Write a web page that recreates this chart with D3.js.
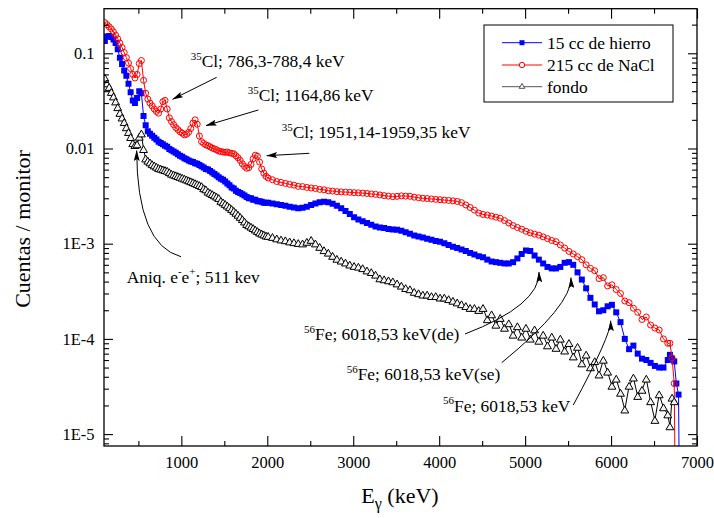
<!DOCTYPE html>
<html>
<head>
<meta charset="utf-8">
<script src="https://cdn.jsdelivr.net/npm/d3@7"></script>
<style>
  html, body { margin: 0; padding: 0; background: #fff; }
  svg text { font-family: "Liberation Serif", "Times New Roman", serif; fill: #000; }
</style>
</head>
<body>
<svg id="chart" width="714" height="518"></svg>
<script>
// Gamma energy of each channel (keV)
const energyKeV = [
  110, 135, 160, 185, 210, 235, 260, 285, 310, 335,
  360, 385, 410, 435, 460, 485, 510, 535, 560, 585,
  610, 635, 660, 685, 710, 735, 760, 785, 810, 835,
  860, 885, 910, 935, 960, 985, 1010, 1035, 1060, 1085,
  1110, 1135, 1160, 1185, 1210, 1235, 1260, 1285, 1310, 1335,
  1360, 1385, 1410, 1435, 1460, 1485, 1510, 1535, 1560, 1585,
  1610, 1635, 1660, 1685, 1710, 1735, 1760, 1785, 1810, 1835,
  1860, 1885, 1910, 1935, 1960, 1985, 2010, 2060, 2110, 2160,
  2210, 2260, 2310, 2360, 2410, 2460, 2510, 2560, 2610, 2660,
  2710, 2760, 2810, 2860, 2910, 2960, 3010, 3060, 3110, 3160,
  3210, 3260, 3310, 3360, 3410, 3460, 3510, 3560, 3610, 3660,
  3710, 3760, 3810, 3860, 3910, 3960, 4010, 4060, 4110, 4160,
  4210, 4260, 4310, 4360, 4410, 4460, 4510, 4560, 4610, 4660,
  4710, 4760, 4810, 4860, 4910, 4960, 5010, 5060, 5110, 5160,
  5210, 5260, 5310, 5360, 5410, 5460, 5510, 5560, 5610, 5660,
  5710, 5760, 5810, 5860, 5910, 5960, 6010, 6060, 6110, 6160,
  6210, 6260, 6310, 6360, 6410, 6460, 6510, 6560, 6610, 6660,
  6685, 6710, 6735, 6760, 6785, 6810
];

// Cuentas / monitor — 15 cc de hierro
const hierro = [
  .135, .15, .152, .148, .14, .128, .11, .09, .077, .066,
  .058, .048, .039, .032, .030, .034, .040, .038, .022, .0175,
  .0152, .0143, .0136, .013, .0124, .0118, .0114, .0111, .0107, .0104,
  .0099, .0096, .0093, .009, .0087, .0084, .0082, .0079, .0077, .0075,
  .0073, .0072, .007, .0069, .0067, .0065, .0063, .0061, .006, .0058,
  .0056, .0054, .0052, .005, .0048, .0047, .0045, .0043, .0041, .0039,
  .0038, .0036, .0035, .0034, .0033, .0032, .0031, .0030, .0030, .0029,
  .0029, .0028, .0028, .00275, .0027, .0027, .0027, .00265, .0026, .00255,
  .0025, .00245, .0024, .00236, .00238, .00245, .00255, .00265, .00272, .00276,
  .00272, .00262, .0025, .00235, .0022, .00205, .0019, .0018, .00172, .00165,
  .00158, .00152, .00148, .00146, .00143, .00141, .0014, .00137, .00132, .00127,
  .00122, .00119, .00116, .00113, .0011, .00107, .00105, .00101, .00097, .00093,
  .0009, .00087, .00084, .0008, .00077, .00074, .00072, .00068, .00065, .00064,
  .00063, .00062, .00062, .00064, .0007, .00078, .00085, .00084, .00075, .00068,
  .00062, .00057, .00055, .00055, .00057, .00063, .00064, .0006, .0005, .00042,
  .00034, .00027, .00023, .000195, .0002, .00022, .000228, .00019, .00015, .0001,
  .000078, .000085, .00007, .000062, .00006, .000056, .000052, .00005, .00005, .00006,
  .000068, .000062, .000058, .000034, .000026, 1e-7
];

// Cuentas / monitor — 215 cc de NaCl
const nacl = [
  .21, .20, .19, .18, .168, .155, .142, .128, .115, .102,
  .090, .079, .069, .060, .055, .060, .078, .084, .052, .038,
  .033, .030, .028, .026, .0245, .0235, .026, .031, .032, .026,
  .021, .0192, .0178, .0166, .0158, .015, .0145, .0139, .0141, .0148,
  .0162, .0185, .020, .018, .0135, .0118, .0113, .0109, .0107, .0104,
  .0101, .0099, .0097, .0094, .0093, .0092, .0091, .0092, .0090, .0089,
  .0088, .0084, .0080, .0075, .0069, .0065, .0062, .0063, .0068, .0078,
  .0085, .0083, .0072, .0061, .0055, .0051, .0049, .0047, .0045, .0044,
  .0043, .0042, .00412, .0040, .00398, .0039, .00385, .0038, .00372, .00368,
  .0036, .00357, .00352, .0035, .00348, .00346, .00344, .00342, .0034, .00337,
  .00333, .0033, .00325, .0032, .00316, .00312, .00314, .00318, .00316, .00315,
  .00308, .00304, .003, .00298, .00295, .00292, .0029, .00287, .00285, .00282,
  .00278, .0027, .00255, .0024, .00225, .0021, .00203, .002, .00195, .0019,
  .00185, .00175, .00165, .00155, .00148, .00142, .00135, .0013, .00126, .00123,
  .00118, .00113, .00108, .00105, .00097, .0009, .00083, .00078, .00073, .00068,
  .0006, .00055, .00052, .00043, .00044, .00036, .00037, .00033, .0003, .00025,
  .00024, .00021, .00019, .00016, .00017, .00014, .00013, .000124, .0001, .00009,
  .00009, .000063, .000034, 1e-7, null, null
];

// Cuentas / monitor — fondo
const fondo = [
  .055, .048, .044, .039, .035, .031, .027, .0235, .021, .0188,
  .0166, .0148, .0131, .0113, .0108, .011, .0132, .0143, .0098, .0078,
  .0074, .0071, .0068, .0066, .0064, .0062, .0061, .006, .0059, .0058,
  .0056, .0054, .0053, .0052, .0051, .005, .0049, .0048, .0047, .0046,
  .0045, .0044, .0043, .0042, .0041, .004, .0038, .0037, .0035, .0034,
  .0033, .0032, .0031, .003, .0028, .0027, .0026, .0025, .0024, .0023,
  .0022, .0021, .002, .0019, .0018, .0017, .0016, .00155, .0015, .00145,
  .0014, .00135, .0013, .00127, .00124, .00121, .0012, .00117, .00113, .0011,
  .00108, .00105, .00103, .00101, .001, .00104, .00109, .001, .00092, .00085,
  .0008, .00074, .00069, .00066, .00063, .0006, .00058, .00057, .00055, .00052,
  .0005, .00047, .00043, .00042, .00041, .0004, .00038, .00036, .00034, .00033,
  .00031, .0003, .00029, .00029, .00028, .00028, .00027, .00027, .00026, .00025,
  .00024, .00023, .00022, .00021, .00021, .0002, .00021, .00016, .00018, .00014,
  .000165, .00013, .000145, .00011, .000135, .000105, .00013, .0001, .000125, .000095,
  .00011, .000085, .000105, .00008, .0001, .000075, .00009, .000065, .000082, .000055,
  .000068, .00005, .000058, .000042, .00006, .000045, .000032, .000038, .000027, .000018,
  .000032, .000039, .000025, .000029, .000038, .000022, .000014, .000026, .000019, .000016,
  .000012, .000024, .000022, null, null, null
];

const seriesNames = ["15 cc de hierro", "215 cc de NaCl", "fondo"];
const xMajorTicks = [1000, 2000, 3000, 4000, 5000, 6000, 7000];
const xMinorTicks = [500, 1500, 2500, 3500, 4500, 5500, 6500];
const yMajorTicks = [1e-5, 1e-4, 1e-3, 0.01, 0.1];
const yTickLabels = ["1E-5", "1E-4", "1E-3", "0.01", "0.1"];

const svg = d3.select("#chart");
const plotLeft = 104, plotRight = 697, plotTop = 8.7, plotBottom = 446;

const x = d3.scaleLinear().domain([100, 7000]).range([plotLeft, plotRight]);
const y = d3.scaleLog().domain([7.5e-6, 0.294]).range([plotBottom, plotTop]);

// minor log ticks (2..9 per decade) inside the domain
const yMinorTicks = [];
for (let e = -6; e <= 0; e++) {
  for (let m = 2; m <= 9; m++) {
    const v = m * Math.pow(10, e);
    if (v >= y.domain()[0] && v <= y.domain()[1]) yMinorTicks.push(v);
  }
}

const font = '"Liberation Serif", "Times New Roman", serif';
const labelSize = 17.4;
const defs = svg.append("defs");
defs.append("clipPath").attr("id", "plotClip")
  .append("rect").attr("x", plotLeft).attr("y", plotTop)
  .attr("width", plotRight - plotLeft).attr("height", plotBottom - plotTop);
defs.append("marker").attr("id", "arrowHead")
  .attr("viewBox", "0 0 11 6").attr("refX", 10.5).attr("refY", 3)
  .attr("markerWidth", 11).attr("markerHeight", 6)
  .attr("markerUnits", "userSpaceOnUse").attr("orient", "auto")
  .append("path").attr("d", "M0,0 L11,3 L0,6 L2,3 Z").attr("fill", "#000");

// ---- data series ----
const plot = svg.append("g").attr("clip-path", "url(#plotClip)");
const rows = (vals) => energyKeV.map((e, i) => ({ e, v: vals[i] }));
const line = d3.line().defined(d => d.v != null).x(d => x(d.e)).y(d => y(d.v));

function drawSeries(vals, color, markerFn) {
  const data = rows(vals);
  const g = plot.append("g");
  g.append("path").datum(data).attr("d", line)
    .attr("fill", "none").attr("stroke", color).attr("stroke-width", 1);
  const pts = data.filter(d => d.v != null && d.v > 1e-6);
  markerFn(g.selectAll(null).data(pts).enter());
}

const squareSym = d3.symbol().type(d3.symbolSquare).size(36);
const triSym = d3.symbol().type(d3.symbolTriangle).size(27);

drawSeries(hierro, "#0000ff", sel =>
  sel.append("path").attr("d", squareSym)
    .attr("transform", d => `translate(${x(d.e)},${y(d.v)})`)
    .attr("fill", "#0000ff"));

drawSeries(nacl, "#ff0000", sel =>
  sel.append("circle").attr("cx", d => x(d.e)).attr("cy", d => y(d.v))
    .attr("r", 3).attr("fill", "none").attr("stroke", "#ff0000").attr("stroke-width", 1));

drawSeries(fondo, "#000000", sel =>
  sel.append("path").attr("d", triSym)
    .attr("transform", d => `translate(${x(d.e)},${y(d.v) + 0.9})`)
    .attr("fill", "#f4f4f4").attr("stroke", "#000").attr("stroke-width", 1));

// ---- axes (ticks pointing inward on all four sides) ----
function styleAxis(g) {
  g.select(".domain").remove();
  g.selectAll("line").attr("stroke", "#000").attr("stroke-width", 1.1);
  g.selectAll("text").attr("font-family", font).attr("font-size", 16.5).attr("fill", "#000");
}

svg.append("g").attr("transform", `translate(0,${plotBottom})`)
  .call(d3.axisBottom(x).tickValues(xMajorTicks).tickSize(-10).tickPadding(10.6).tickFormat(d3.format("d")))
  .call(styleAxis);
svg.append("g").attr("transform", `translate(0,${plotBottom})`)
  .call(d3.axisBottom(x).tickValues(xMinorTicks).tickSize(-5).tickFormat(""))
  .call(styleAxis);
svg.append("g").attr("transform", `translate(0,${plotTop})`)
  .call(d3.axisTop(x).tickValues(xMajorTicks).tickSize(-10).tickFormat(""))
  .call(styleAxis);
svg.append("g").attr("transform", `translate(0,${plotTop})`)
  .call(d3.axisTop(x).tickValues(xMinorTicks).tickSize(-5).tickFormat(""))
  .call(styleAxis);

svg.append("g").attr("transform", `translate(${plotLeft},0)`)
  .call(d3.axisLeft(y).tickValues(yMajorTicks).tickSize(-9).tickPadding(9.5)
    .tickFormat((d, i) => yTickLabels[i]))
  .call(styleAxis);
svg.append("g").attr("transform", `translate(${plotLeft},0)`)
  .call(d3.axisLeft(y).tickValues(yMinorTicks).tickSize(-5).tickFormat(""))
  .call(styleAxis);
svg.append("g").attr("transform", `translate(${plotRight},0)`)
  .call(d3.axisRight(y).tickValues(yMajorTicks).tickSize(-9).tickFormat(""))
  .call(styleAxis);
svg.append("g").attr("transform", `translate(${plotRight},0)`)
  .call(d3.axisRight(y).tickValues(yMinorTicks).tickSize(-5).tickFormat(""))
  .call(styleAxis);

// frame
svg.append("rect").attr("x", plotLeft).attr("y", plotTop)
  .attr("width", plotRight - plotLeft).attr("height", plotBottom - plotTop)
  .attr("fill", "none").attr("stroke", "#000").attr("stroke-width", 1.3);

// ---- axis titles ----
const xt = svg.append("text").attr("x", 400).attr("y", 503)
  .attr("text-anchor", "middle").attr("font-size", 22);
xt.append("tspan").text("E");
xt.append("tspan").attr("dy", 6).attr("font-size", 16).text("γ");
xt.append("tspan").attr("dy", -6).text(" (keV)");

svg.append("text").attr("transform", "translate(30,229) rotate(-90)")
  .attr("text-anchor", "middle").attr("font-size", 22).text("Cuentas / monitor");

// ---- legend ----
const lg = svg.append("g");
lg.append("rect").attr("x", 484).attr("y", 25).attr("width", 189).attr("height", 77)
  .attr("fill", "#fff").attr("stroke", "#000").attr("stroke-width", 1);
const legendRows = [
  { name: seriesNames[0], color: "#0000ff", yPos: 42.7, kind: "square" },
  { name: seriesNames[1], color: "#ff0000", yPos: 65, kind: "circle" },
  { name: seriesNames[2], color: "#555", yPos: 86.7, kind: "tri" }
];
legendRows.forEach(r => {
  lg.append("line").attr("x1", 502).attr("x2", 542).attr("y1", r.yPos).attr("y2", r.yPos)
    .attr("stroke", r.color).attr("stroke-width", 1);
  if (r.kind === "square") {
    lg.append("rect").attr("x", 519.5).attr("y", r.yPos - 2.5).attr("width", 5).attr("height", 5)
      .attr("fill", "#0000ff");
  } else if (r.kind === "circle") {
    lg.append("circle").attr("cx", 522).attr("cy", r.yPos).attr("r", 2.7)
      .attr("fill", "#fff").attr("stroke", "#ff0000").attr("stroke-width", 1);
  } else {
    lg.append("path").attr("d", d3.symbol().type(d3.symbolTriangle).size(14))
      .attr("transform", `translate(522,${r.yPos})`)
      .attr("fill", "#fff").attr("stroke", "#555").attr("stroke-width", 1);
  }
  lg.append("text").attr("x", 547).attr("y", r.yPos + 5.8).attr("font-size", labelSize).text(r.name);
});

// ---- peak annotations ----
function isotopeLabel(xPos, yPos, mass, rest) {
  const t = svg.append("text").attr("x", xPos).attr("y", yPos).attr("font-size", labelSize);
  t.append("tspan").attr("font-size", 11).attr("dy", -7.5).text(mass);
  t.append("tspan").attr("dy", 7.5).text(rest);
}
isotopeLabel(190.7, 67, "35", "Cl; 786,3-788,4 keV");
isotopeLabel(247.7, 101, "35", "Cl; 1164,86 keV");
isotopeLabel(281.7, 138, "35", "Cl; 1951,14-1959,35 keV");
isotopeLabel(304, 340, "56", "Fe; 6018,53 keV(de)");
isotopeLabel(346.7, 380, "56", "Fe; 6018,53 keV(se)");
isotopeLabel(443, 411.7, "56", "Fe; 6018,53 keV");

const an = svg.append("text").attr("x", 126.7).attr("y", 282.7).attr("font-size", labelSize);
an.append("tspan").text("Aniq. e");
an.append("tspan").attr("dy", -7.5).attr("font-size", 11).text("-");
an.append("tspan").attr("dy", 7.5).text("e");
an.append("tspan").attr("dy", -7.5).attr("font-size", 11).text("+");
an.append("tspan").attr("dy", 7.5).text("; 511 kev");

// arrows: tail in page space, tip at the peak it marks (energy, counts)
function arrow(tail, tipE, tipV, ctrl) {
  const tx = x(tipE), ty = y(tipV);
  const p = d3.path();
  p.moveTo(tail[0], tail[1]);
  if (ctrl) p.quadraticCurveTo(ctrl[0], ctrl[1], tx, ty);
  else p.lineTo(tx, ty);
  svg.append("path").attr("d", p.toString()).attr("fill", "none")
    .attr("stroke", "#000").attr("stroke-width", 1).attr("marker-end", "url(#arrowHead)");
}
arrow([216.7, 77.3], 899, 0.0329);
arrow([258.3, 110], 1287, 0.0174);
arrow([309.3, 153.3], 1993, 0.0084);
arrow([181, 256.7], 480, 0.0095, [137, 245]);
arrow([465, 334], 5162, 0.000504, [540, 305]);
arrow([501.7, 362.7], 5534, 0.00044, [572, 305]);
arrow([573.3, 405], 5996, 0.000155, [611, 335]);
</script>
</body>
</html>
